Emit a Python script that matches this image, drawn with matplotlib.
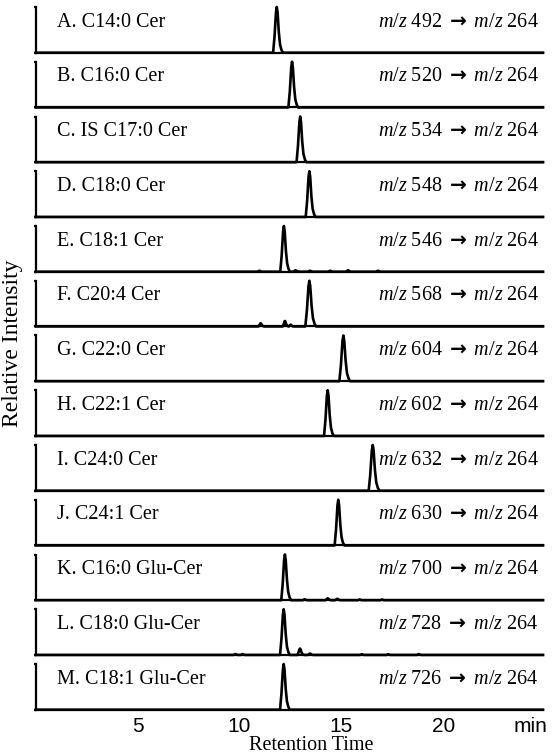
import matplotlib
matplotlib.use("Agg")
import matplotlib.pyplot as plt
import numpy as np

plt.rcParams['font.family'] = ['Liberation Serif', 'DejaVu Serif']
plt.rcParams['mathtext.fontset'] = 'custom'
plt.rcParams['mathtext.it'] = 'Liberation Serif:italic'
plt.rcParams['mathtext.rm'] = 'Liberation Serif'
plt.rcParams['mathtext.bf'] = 'DejaVu Sans:bold'

# panel names and MRM transitions
names = ['A. C14:0 Cer', 'B. C16:0 Cer', 'C. IS C17:0 Cer', 'D. C18:0 Cer',
         'E. C18:1 Cer', 'F. C20:4 Cer', 'G. C22:0 Cer', 'H. C22:1 Cer',
         'I. C24:0 Cer', 'J. C24:1 Cer', 'K. C16:0 Glu-Cer',
         'L. C18:0 Glu-Cer', 'M. C18:1 Glu-Cer']
precursor = [492, 520, 534, 548, 546, 568, 604, 602, 632, 630, 700, 728, 726]
product = 264

# peaks per panel: (retention time, relative height, width factor)
peaks = [
    [(11.83, 1.0, 1.0)],
    [(12.58, 1.0, 1.0)],
    [(12.98, 1.0, 1.0)],
    [(13.43, 1.0, 1.0)],
    [(10.98, 0.02, 0.6), (12.18, 1.0, 1.0), (12.75, 0.03, 0.6), (13.46, 0.02, 0.6),
     (14.45, 0.02, 0.6), (15.33, 0.03, 0.6), (16.8, 0.02, 0.6)],
    [(11.04, 0.07, 0.6), (12.23, 0.12, 0.6), (12.51, 0.04, 0.5), (13.43, 1.0, 1.1)],
    [(15.10, 1.0, 1.1)],
    [(14.33, 1.0, 1.0)],
    [(16.54, 1.0, 1.1)],
    [(14.85, 1.0, 1.0)],
    [(12.23, 1.0, 1.0), (13.2, 0.02, 0.5), (14.33, 0.04, 0.6), (14.80, 0.03, 0.6),
     (15.9, 0.015, 0.5), (17.0, 0.015, 0.5)],
    [(9.8, 0.02, 0.5), (10.15, 0.02, 0.5), (12.17, 1.0, 1.0), (12.97, 0.14, 0.7),
     (13.46, 0.03, 0.6), (16.0, 0.015, 0.5), (17.3, 0.015, 0.5), (18.8, 0.02, 0.5)],
    [(12.17, 1.0, 1.0)],
]

# peak outline (min offset from apex, fraction of apex)
prof_dt = [-0.18, -0.11, -0.04, 0.0, 0.04, 0.10, 0.16, 0.23, 0.30]
prof_h = [0.0, 0.35, 0.88, 1.0, 0.88, 0.45, 0.18, 0.06, 0.0]

tmax = 24.9
W, H = 553, 754
fig = plt.figure(figsize=(W / 100, H / 100), dpi=100)

left = 35.8 / W
width = (543 - 35.8) / W
ax_h = 45.7 / H
step = 54.75

for i, name in enumerate(names):
    base_px = 52.7 + step * i
    ax = fig.add_axes([left, 1 - base_px / H, width, ax_h])
    t = [0.0]
    y = [0.0]
    for rt, h, w in peaks[i]:
        for dt, ph in zip(prof_dt, prof_h):
            t.append(rt + dt * w)
            y.append(h * ph)
    t.append(tmax)
    y.append(0.0)
    ax.plot(t, y, color='black', lw=1.9, clip_on=False, solid_joinstyle='round')
    ax.set_xlim(0, tmax)
    ax.set_ylim(0, 1.0)
    for s in ['top', 'right']:
        ax.spines[s].set_visible(False)
    ax.spines['left'].set_linewidth(1.6)
    ax.spines['bottom'].set_linewidth(1.6)
    ax.set_yticks([0, 1])
    ax.set_yticklabels([])
    ax.tick_params(axis='y', direction='out', length=1.5, width=1.6)
    ax.text(0.042, 0.57, name, transform=ax.transAxes, fontsize=14.5,
            ha='left', va='baseline')
    ax.text(0.991, 0.57,
            r'$\it{m/z}$ %d $\mathbf{\rightarrow}$ $\it{m/z}$ %d' % (precursor[i], product),
            transform=ax.transAxes, fontsize=14.5, ha='right', va='baseline')
    if i < len(names) - 1:
        ax.set_xticks([])
    else:
        ax.set_xticks([5, 10, 15, 20, 24.3])
        ax.set_xticklabels(['5', '10', '15', '20', 'min'],
                           family='Liberation Sans', fontsize=15)
        ax.tick_params(axis='x', length=0, pad=5)

fig.text(311.7 / W, 1 - 750 / H, 'Retention Time', fontsize=14.5,
         ha='center', va='baseline')
fig.text(13 / W, 1 - 343 / H, 'Relative Intensity', fontsize=17,
         rotation=90, ha='center', va='center')

fig.savefig('out.png', dpi=100)
